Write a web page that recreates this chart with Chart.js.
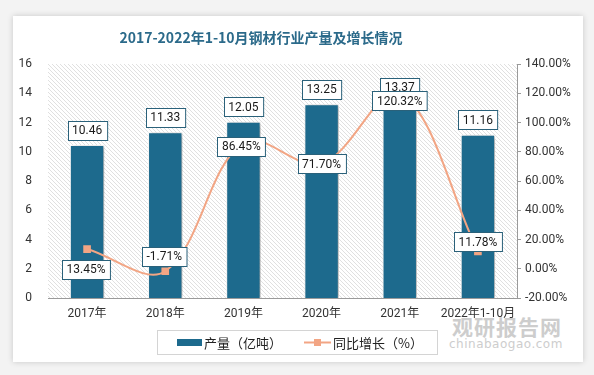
<!DOCTYPE html>
<html>
<head>
<meta charset="utf-8">
<script src="https://cdn.jsdelivr.net/npm/chart.js@4.4.0/dist/chart.umd.min.js"></script>
<style>
  html, body { margin: 0; padding: 0; background: #f3f3f3; }
  #wrap { position: relative; width: 594px; height: 375px; overflow: hidden; }
  #card { position: absolute; left: 13px; top: 16px; width: 570px; height: 346px; background: #fff;
          box-shadow: 0 0 6px rgba(0,0,0,0.18); }
  #myChart { position: absolute; left: 0; top: 0; }
  .wm { position: absolute; color: #cdcdcd; font-family: "Noto Sans CJK SC", sans-serif; font-weight: bold; }
</style>
</head>
<body>
<div id="wrap">
  <div id="card"></div>
  <div class="wm" style="left:452px; top:311px; font-size:21px; letter-spacing:1px;">观研报告网</div>
  <div class="wm" style="left:449px; top:337px; font-size:12px; font-weight:normal; font-family:'DejaVu Sans',sans-serif; letter-spacing:0.5px;">chinabaogao.com</div>
  <canvas id="myChart" width="594" height="375"></canvas>
</div>
<script>
'use strict';

// chart data
const categories = ['2017年', '2018年', '2019年', '2020年', '2021年', '2022年1-10月'];
const output = [10.46, 11.33, 12.05, 13.25, 13.37, 11.16]; // 亿吨
const growth = [13.45, -1.71, 86.45, 71.70, 120.32, 11.78]; // %
const leftTicks = [0, 2, 4, 6, 8, 10, 12, 14, 16];
const rightTicks = [-20, 0, 20, 40, 60, 80, 100, 120, 140];

const barColor = '#1d6a8d';
const lineColor = '#f2a584';
const boxBorder = '#2a617a';
const fontFamily = 'Roboto, "Noto Sans CJK SC", sans-serif';

// where the growth labels sit relative to their point (dx, dy)
const growthLabelOffset = [[-1, 20], [-1, -15], [-2, 4], [0, 0], [0, 8], [0, -10]];

const chartCanvas = document.getElementById('myChart');

function drawBox(ctx, text, cx, cy) {
  ctx.font = '12px ' + fontFamily;
  const w = ctx.measureText(text).width + 9;
  const h = 19;
  const x = Math.round(cx - w / 2) + 0.5;
  const y = Math.round(cy - h / 2) + 0.5;
  ctx.fillStyle = '#ffffff';
  ctx.fillRect(x, y, w, h);
  ctx.strokeStyle = boxBorder;
  ctx.lineWidth = 1;
  ctx.strokeRect(x, y, w, h);
  ctx.fillStyle = '#1a1a1a';
  ctx.textAlign = 'center';
  ctx.textBaseline = 'middle';
  ctx.fillText(text, cx, cy + 1);
}

const decorPlugin = {
  id: 'decor',
  beforeDatasetsDraw(chart) {
    const { ctx, chartArea } = chart;
    // diagonal hatch background
    const tile = document.createElement('canvas');
    tile.width = 4;
    tile.height = 4;
    const t = tile.getContext('2d');
    t.strokeStyle = '#e0e0e0';
    t.lineWidth = 1;
    t.beginPath();
    t.moveTo(-1, -1); t.lineTo(5, 5);
    t.moveTo(-1, 3); t.lineTo(1, 5);
    t.moveTo(3, -1); t.lineTo(5, 1);
    t.stroke();
    ctx.save();
    ctx.fillStyle = ctx.createPattern(tile, 'repeat');
    ctx.fillRect(chartArea.left, chartArea.top, chartArea.right - chartArea.left, chartArea.bottom - chartArea.top);
    ctx.restore();
  },
  beforeDatasetDraw(chart, args) {
    if (args.index === 1) {
      chart.ctx.save();
      chart.ctx.shadowColor = 'rgba(0,0,0,0.35)';
      chart.ctx.shadowBlur = 4;
      chart.ctx.shadowOffsetX = 2;
      chart.ctx.shadowOffsetY = 1;
    }
  },
  afterDatasetDraw(chart, args) {
    if (args.index === 1) chart.ctx.restore();
  },
  afterDatasetsDraw(chart) {
    const { ctx } = chart;
    ctx.save();
    const barMeta = chart.getDatasetMeta(1);
    barMeta.data.forEach((bar, i) => {
      drawBox(ctx, output[i].toFixed(2), bar.x, bar.y - 15);
    });
    const lineMeta = chart.getDatasetMeta(0);
    lineMeta.data.forEach((pt, i) => {
      const off = growthLabelOffset[i];
      drawBox(ctx, growth[i].toFixed(2) + '%', pt.x + off[0], pt.y + off[1]);
    });
    ctx.restore();
  },
  afterDraw(chart) {
    const { ctx } = chart;
    ctx.save();
    // title
    ctx.font = 'bold 14px "Noto Sans CJK SC", sans-serif';
    ctx.fillStyle = '#2b6a8a';
    ctx.textAlign = 'center';
    ctx.textBaseline = 'middle';
    ctx.fillText('2017-2022年1-10月钢材行业产量及增长情况', 261, 38);
    // legend
    ctx.strokeStyle = '#d4d4d4';
    ctx.lineWidth = 1;
    ctx.strokeRect(157.5, 330.5, 280, 24);
    ctx.fillStyle = barColor;
    ctx.fillRect(177, 339, 25, 7);
    ctx.font = '13px "Noto Sans CJK SC", sans-serif';
    ctx.fillStyle = '#222';
    ctx.textAlign = 'left';
    ctx.fillText('产量（亿吨）', 204, 343);
    ctx.strokeStyle = lineColor;
    ctx.lineWidth = 2;
    ctx.beginPath();
    ctx.moveTo(304, 342.5); ctx.lineTo(331, 342.5);
    ctx.stroke();
    ctx.fillStyle = lineColor;
    ctx.fillRect(314, 339, 7, 7);
    ctx.fillStyle = '#222';
    ctx.fillText('同比增长（%）', 333, 343);
    ctx.restore();
  }
};

new Chart(chartCanvas, {
  data: {
    labels: categories,
    datasets: [{
      type: 'line',
      label: '同比增长（%）',
      data: growth,
      yAxisID: 'y1',
      borderColor: lineColor,
      borderWidth: 2,
      tension: 0.35,
      pointStyle: 'rect',
      pointRadius: 4,
      pointBackgroundColor: lineColor,
      pointBorderColor: lineColor,
      order: 0
    }, {
      type: 'bar',
      label: '产量（亿吨）',
      data: output,
      yAxisID: 'y',
      backgroundColor: barColor,
      borderColor: '#ffffff',
      borderWidth: 1,
      barPercentage: 0.44,
      categoryPercentage: 1,
      order: 1
    }]
  },
  options: {
    responsive: false,
    animation: false,
    layout: { padding: { left: 13, right: 11, top: 64, bottom: 47 } },
    plugins: { legend: { display: false }, tooltip: { enabled: false }, title: { display: false } },
    scales: {
      x: {
        grid: { display: false, drawTicks: false },
        border: { display: true, color: '#9a9a9a' },
        ticks: { padding: 9, color: '#333', maxRotation: 0, minRotation: 0, autoSkip: false,
                 font: { size: 12, family: fontFamily } },
        afterFit(scale) { scale.height = 30; }
      },
      y: {
        position: 'left',
        min: 0,
        max: 16,
        afterBuildTicks(scale) { scale.ticks = leftTicks.map(v => ({ value: v })); },
        grid: { display: false },
        border: { display: false },
        ticks: { color: '#333', padding: 8, font: { size: 12, family: fontFamily } },
        afterFit(scale) { scale.width = 35; }
      },
      y1: {
        position: 'right',
        min: -20,
        max: 140,
        afterBuildTicks(scale) { scale.ticks = rightTicks.map(v => ({ value: v })); },
        grid: { drawOnChartArea: false, drawTicks: true, tickLength: 4, color: '#9a9a9a' },
        border: { display: true, color: '#9a9a9a' },
        ticks: {
          color: '#333',
          padding: 4,
          font: { size: 12, family: fontFamily },
          callback: v => v.toFixed(2) + '%'
        },
        afterFit(scale) { scale.width = 66; }
      }
    }
  },
  plugins: [decorPlugin]
});
</script>
</body>
</html>
